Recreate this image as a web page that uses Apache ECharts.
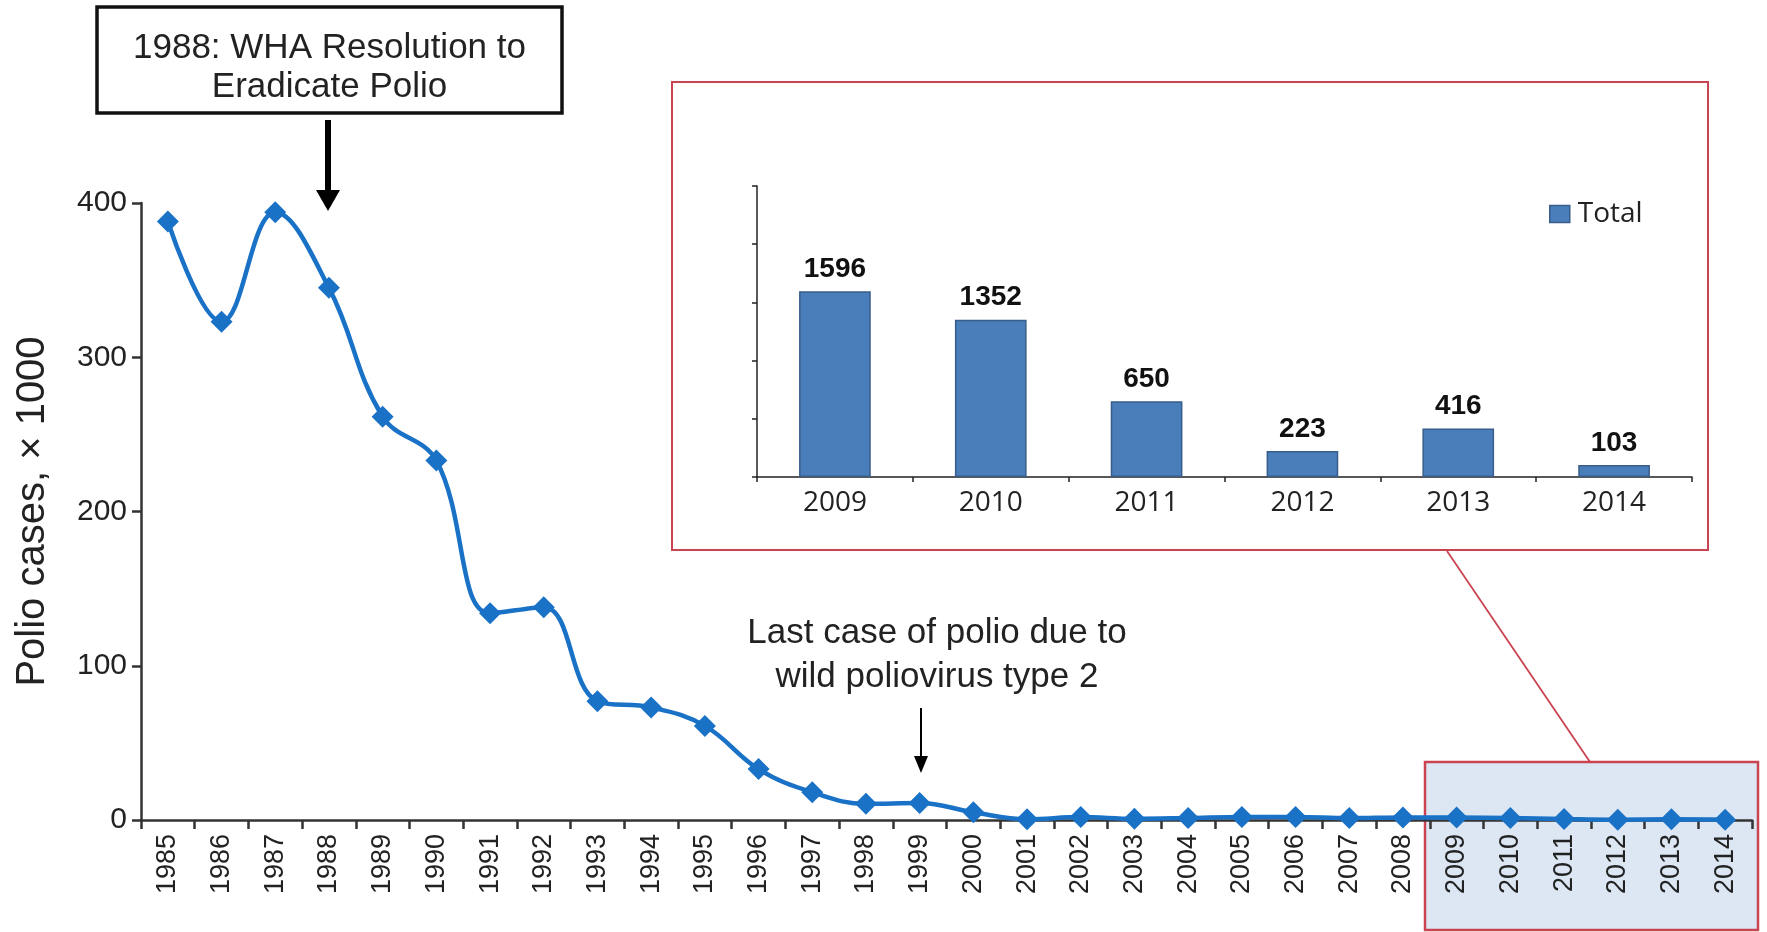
<!DOCTYPE html>
<html>
<head>
<meta charset="utf-8">
<script src="https://cdn.jsdelivr.net/npm/echarts@6/dist/echarts.min.js"></script>
<style>
html,body{margin:0;padding:0;background:#fff;}
#chart{width:1767px;height:932px;}
</style>
</head>
<body>
<div id="chart"></div>
<script>
// Main chart: global polio cases (thousands)
var years = ['1985','1986','1987','1988','1989','1990','1991','1992','1993','1994','1995','1996','1997','1998','1999','2000','2001','2002','2003','2004','2005','2006','2007','2008','2009','2010','2011','2012','2013','2014'];
var casesThousands = [388, 323, 394, 345, 261.5, 233, 134, 138, 77, 73, 61, 33, 18, 10.5, 11, 5, 0.5, 1.9, 0.8, 1.3, 2.0, 2.0, 1.3, 1.7, 1.6, 1.35, 0.65, 0.22, 0.42, 0.1];
// Inset bar chart: total cases 2009-2014
var insetYears = ['2009','2010','2011','2012','2013','2014'];
var insetCases = [1596, 1352, 650, 223, 416, 103];

var chart = echarts.init(document.getElementById('chart'), null, {renderer:'canvas'});
var sans = '"Liberation Sans", Arial, sans-serif';
var inset = '"Open Sans", sans-serif';
var red = '#c94450';

var option = {
  backgroundColor:'#ffffff',
  animation:false,
  legend:{
    data:['Total'],
    left:1544, top:195,
    icon:'rect', itemWidth:20, itemHeight:17,
    textStyle:{fontFamily:inset, fontSize:28, color:'#222', padding:[0,0,0,3]},
    itemStyle:{color:'#4a7ebb', borderColor:'#385d8a', borderWidth:1.5}
  },
  grid:[
    {left:141, right:15, top:203, bottom:112, containLabel:false},
    {left:757, width:935, top:186, height:291, containLabel:false}
  ],
  xAxis:[
    {
      type:'category', gridIndex:0, data:years, boundaryGap:true,
      axisLine:{lineStyle:{color:'#333', width:2.5}},
      axisTick:{show:true, alignWithLabel:false, length:9, lineStyle:{color:'#333', width:2.5}},
      axisLabel:{interval:0, rotate:90, fontFamily:sans, fontSize:27, color:'#222', margin:14}
    },
    {
      type:'category', gridIndex:1, data:insetYears, boundaryGap:true,
      axisLine:{lineStyle:{color:'#222', width:1.5}},
      axisTick:{show:true, length:5, lineStyle:{color:'#222', width:1.5}},
      axisLabel:{interval:0, fontFamily:inset, fontSize:28, color:'#222', margin:12}
    }
  ],
  yAxis:[
    {
      type:'value', gridIndex:0, min:0, max:400, interval:100,
      name:'Polio cases, × 1000', nameLocation:'middle', nameGap:88, nameRotate:90,
      nameTextStyle:{fontFamily:sans, fontSize:40, color:'#222'},
      axisLine:{show:true, lineStyle:{color:'#333', width:2.5}},
      axisTick:{show:true, length:9, lineStyle:{color:'#333', width:2.5}},
      axisLabel:{fontFamily:sans, fontSize:30, color:'#222', margin:14},
      splitLine:{show:false}
    },
    {
      type:'value', gridIndex:1, min:0, max:2500, interval:500,
      axisLine:{show:true, lineStyle:{color:'#222', width:1.5}},
      axisTick:{show:true, length:5, lineStyle:{color:'#222', width:1.5}},
      axisLabel:{show:false},
      splitLine:{show:false}
    }
  ],
  series:[
    {
      type:'line', name:'Cases', xAxisIndex:0, yAxisIndex:0,
      data:casesThousands, smooth:0.4,
      symbol:'diamond', symbolSize:22,
      lineStyle:{color:'#1a72c7', width:4.5},
      itemStyle:{color:'#1a72c7'},
      z:5
    },
    {
      type:'bar', name:'Total', xAxisIndex:1, yAxisIndex:1,
      data:insetCases, barWidth:'46%',
      itemStyle:{color:'#4a7ebb', borderColor:'#385d8a', borderWidth:1.5},
      label:{show:true, position:'top', distance:8, fontFamily:sans, fontWeight:'bold', fontSize:28, color:'#111'}
    }
  ],
  graphic:[
    // shaded zoom region on the main chart
    {type:'rect', z:-10, shape:{x:1425, y:762, width:333, height:168}, style:{fill:'#dce7f3', stroke:red, lineWidth:2.5}},
    // connector line
    {type:'line', z:-5, shape:{x1:1447, y1:551, x2:1590, y2:762}, style:{stroke:red, lineWidth:1.8}},
    // inset border
    {type:'rect', z:-5, shape:{x:672, y:82, width:1036, height:468}, style:{fill:'transparent', stroke:red, lineWidth:2}},
    // annotation box
    {type:'rect', shape:{x:97, y:7, width:465, height:106}, style:{fill:'#fff', stroke:'#111', lineWidth:3.5}},
    {type:'text', style:{x:329.5, y:48, text:'1988: WHA Resolution to', textAlign:'center', textVerticalAlign:'middle', font:'35px "Liberation Sans", Arial, sans-serif', fill:'#222'}},
    {type:'text', style:{x:329.5, y:87, text:'Eradicate Polio', textAlign:'center', textVerticalAlign:'middle', font:'35px "Liberation Sans", Arial, sans-serif', fill:'#222'}},
    {type:'line', shape:{x1:328, y1:120, x2:328, y2:194}, style:{stroke:'#000', lineWidth:6}},
    {type:'polygon', shape:{points:[[316,190],[340,190],[328,211]]}, style:{fill:'#000'}},
    // type 2 annotation
    {type:'text', style:{x:937, y:633, text:'Last case of polio due to', textAlign:'center', textVerticalAlign:'middle', font:'35px "Liberation Sans", Arial, sans-serif', fill:'#222'}},
    {type:'text', style:{x:937, y:677, text:'wild poliovirus type 2', textAlign:'center', textVerticalAlign:'middle', font:'35px "Liberation Sans", Arial, sans-serif', fill:'#222'}},
    {type:'line', shape:{x1:921, y1:708, x2:921, y2:760}, style:{stroke:'#000', lineWidth:2}},
    {type:'polygon', shape:{points:[[914,756],[928,756],[921,773]]}, style:{fill:'#000'}}
  ]
};
chart.setOption(option);
</script>
</body>
</html>
